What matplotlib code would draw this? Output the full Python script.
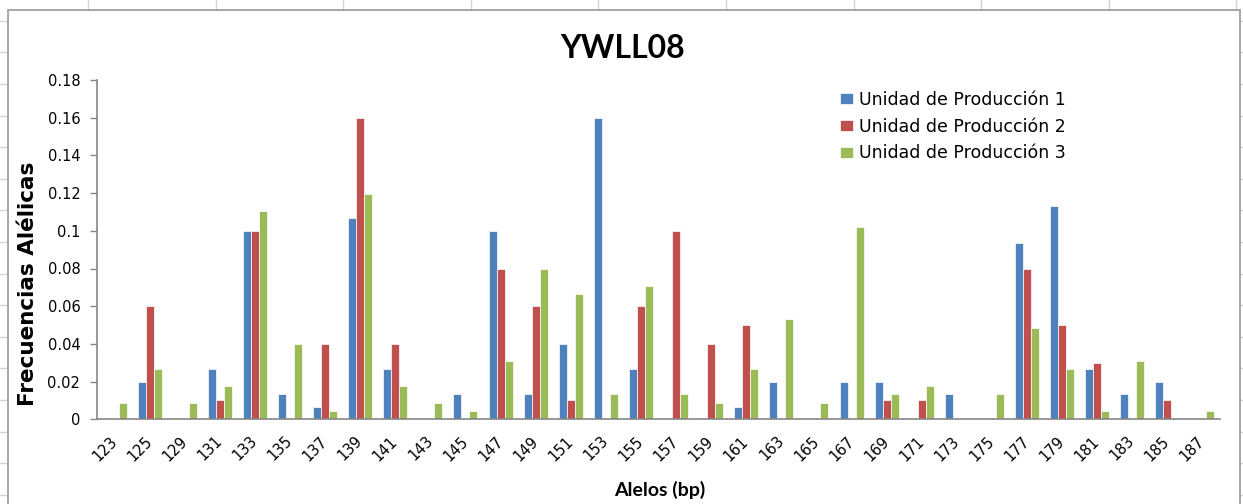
import numpy as np
import matplotlib
matplotlib.use("Agg")
import matplotlib.pyplot as plt
from matplotlib.lines import Line2D
from matplotlib.patches import Rectangle

# Allele sizes (bp) and allele frequencies per production unit
alleles = ["123", "125", "129", "131", "133", "135", "137", "139", "141", "143",
           "145", "147", "149", "151", "153", "155", "157", "159", "161", "163",
           "165", "167", "169", "171", "173", "175", "177", "179", "181", "183",
           "185", "187"]

unidad_1 = [0.0, 0.02, 0.0, 0.0267, 0.1, 0.0133, 0.0067, 0.1067, 0.0267, 0.0,
            0.0133, 0.1, 0.0133, 0.04, 0.16, 0.0267, 0.0, 0.0, 0.0067, 0.02,
            0.0, 0.02, 0.02, 0.0, 0.0133, 0.0, 0.0933, 0.1133, 0.0267, 0.0133,
            0.02, 0.0]

unidad_2 = [0.0, 0.06, 0.0, 0.01, 0.1, 0.0, 0.04, 0.16, 0.04, 0.0,
            0.0, 0.08, 0.06, 0.01, 0.0, 0.06, 0.1, 0.04, 0.05, 0.0,
            0.0, 0.0, 0.01, 0.01, 0.0, 0.0, 0.08, 0.05, 0.03, 0.0,
            0.01, 0.0]

unidad_3 = [0.0088, 0.0265, 0.0088, 0.0177, 0.1106, 0.0398, 0.0044, 0.1195, 0.0177, 0.0088,
            0.0044, 0.031, 0.0796, 0.0664, 0.0133, 0.0708, 0.0133, 0.0088, 0.0265, 0.0531,
            0.0088, 0.1018, 0.0133, 0.0177, 0.0, 0.0133, 0.0487, 0.0265, 0.0044, 0.031,
            0.0, 0.0044]

series_names = ["Unidad de Producción 1", "Unidad de Producción 2", "Unidad de Producción 3"]
series_colors = ["#4F81BD", "#C0504D", "#9BBB59"]

y_ticks = [0.0, 0.02, 0.04, 0.06, 0.08, 0.10, 0.12, 0.14, 0.16, 0.18]
y_tick_labels = ["0", "0.02", "0.04", "0.06", "0.08", "0.1", "0.12", "0.14", "0.16", "0.18"]

W, H = 1243, 504
fig = plt.figure(figsize=(W / 100, H / 100), dpi=100)
fig.patch.set_facecolor("white")

# Plot area in pixel units
left, right, top, bottom = 97, 1220, 80, 419.3
ax = fig.add_axes([left / W, 1 - bottom / H, (right - left) / W, (bottom - top) / H])

x = np.arange(len(alleles))
bw = 0.228
for i, (vals, name, col) in enumerate(zip([unidad_1, unidad_2, unidad_3], series_names, series_colors)):
    ax.bar(x + (i - 1) * bw, vals, width=bw, color=col, edgecolor="white",
           linewidth=0.5, label=name, zorder=2)

ax.set_xlim(-0.5, len(alleles) - 0.5)
ax.set_ylim(0, 0.18)
ax.set_yticks(y_ticks)
ax.set_yticklabels(y_tick_labels, fontsize=10.5, family="DejaVu Sans")
ax.set_xticks(x)
ax.set_xticklabels(alleles, fontsize=10.5, family="DejaVu Sans", rotation=45,
                   ha="right", va="center", rotation_mode="anchor")

axis_gray = "#868686"
for s in ("top", "right"):
    ax.spines[s].set_visible(False)
for s in ("left", "bottom"):
    ax.spines[s].set_color(axis_gray)
    ax.spines[s].set_linewidth(1.2)
ax.tick_params(axis="y", direction="out", length=5, width=1.0, color=axis_gray, pad=7)
ax.tick_params(axis="x", length=0, pad=14)

# Titles and axis labels
fig.text(623 / W, 1 - 48 / H, "YWLL08", fontsize=23, fontweight="bold",
         family="Lato", ha="center", va="center")
fig.text(660 / W, 1 - 490 / H, "Alelos (bp)", fontsize=14, fontweight="bold",
         family="Lato", ha="center", va="center")
fig.text(28 / W, 1 - 284 / H, "Frecuencias Alélicas", fontsize=15.5, fontweight="bold",
         family="DejaVu Sans", ha="center", va="center", rotation=90)

# Legend
leg = ax.legend(loc="upper left", bbox_to_anchor=(840 / W, 1 - 91 / H),
                bbox_transform=fig.transFigure, frameon=False,
                prop={"family": "DejaVu Sans", "size": 12.5},
                handlelength=0.72, handleheight=0.6, handletextpad=0.35,
                labelspacing=0.5, borderpad=0, borderaxespad=0)

# Chart frame and surrounding worksheet grid
frame = Rectangle((8 / W, -0.05), (1240 - 8) / W, 1 - 10 / H + 0.05,
                  transform=fig.transFigure, fill=False, edgecolor="#A0A0A0",
                  linewidth=1.3, zorder=5)
fig.patches.append(frame)

grid_col = "#D4D4D4"
for gx in np.arange(88, W, 127.6):
    fig.lines.append(Line2D([gx / W, gx / W], [1 - 10 / H, 1.0], transform=fig.transFigure,
                            color=grid_col, linewidth=1.0))
for gy in np.arange(84 - 2 * 31.6, H, 31.6):
    yy = 1 - gy / H
    fig.lines.append(Line2D([0, 8 / W], [yy, yy], transform=fig.transFigure,
                            color=grid_col, linewidth=1.0))
    fig.lines.append(Line2D([1240 / W, 1.0], [yy, yy], transform=fig.transFigure,
                            color=grid_col, linewidth=1.0))

fig.savefig("out.png", dpi=100, facecolor="white")
